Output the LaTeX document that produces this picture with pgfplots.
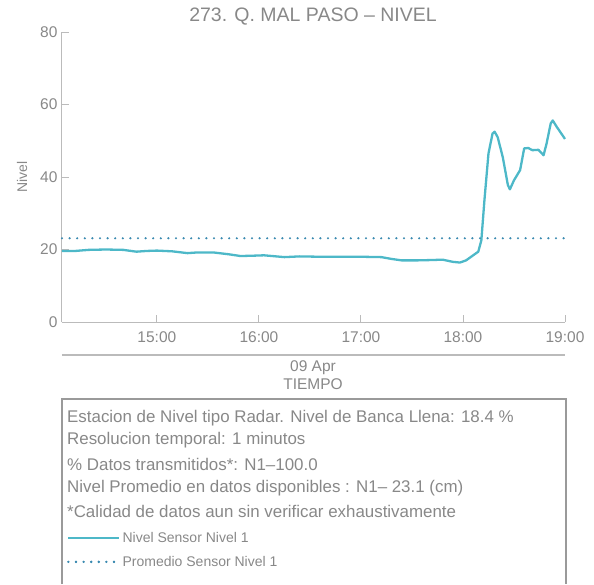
\documentclass[border=0pt]{standalone}
\usepackage{pgfplots}
\pgfplotsset{compat=1.18}
\usepackage{fontspec}
\setmainfont{Liberation Sans}
\definecolor{lineteal}{HTML}{4DB8C8}
\definecolor{dotblue}{HTML}{3A8AB0}
\definecolor{axgray}{HTML}{BBBBBB}
\definecolor{txtgray}{HTML}{888888}
\definecolor{boxgray}{HTML}{9A9A9A}
\begin{document}
\begin{tikzpicture}
\begin{axis}[
  name=ax,
  scale only axis, width=503pt, height=290pt,
  xmin=14.07, xmax=19, ymin=0, ymax=80,
  axis x line*=bottom, axis y line*=left,
  axis line style={axgray, line width=1pt, -},
  xtick={15,16,17,18,19},
  xticklabels={15:00,16:00,17:00,18:00,19:00},
  ytick={0,20,40,60,80},
  tick style={axgray, line width=0.9pt},
  tick align=inside,
  major tick length=7pt,
  /pgf/number format/assume math mode=true,
  tick label style={txtgray, font=\fontsize{15.5}{17}\selectfont},
  xticklabel style={yshift=-6pt},
  yticklabel style={xshift=-1pt},
  ylabel={Nivel}, ylabel style={txtgray, font=\fontsize{14}{16}\selectfont, yshift=6pt},
  legend style={at={(axis description cs:0,-0.718)}, anchor=north west, draw=none, fill=none,
    font=\fontsize{14}{16}\selectfont, text=txtgray, row sep=8pt, inner xsep=5pt, inner ysep=0pt},
  legend cell align=left,
  legend image code/.code={\draw[#1] (0pt,0pt) -- (46pt,0pt); \path (0pt,0pt) -- (51pt,0pt);},
  clip=false,
]
\addplot[lineteal, line width=2.3pt, line join=round] coordinates {
(14.07,19.6) (14.2,19.6) (14.33,19.9) (14.5,20.0) (14.67,19.9) (14.8,19.4)
(14.9,19.6) (15.0,19.7) (15.15,19.5) (15.3,19.0) (15.4,19.2) (15.55,19.2)
(15.7,18.7) (15.82,18.2) (15.95,18.3) (16.05,18.4) (16.25,17.9) (16.4,18.1)
(16.6,18.0) (16.8,18.0) (17.0,18.0) (17.2,17.9) (17.3,17.4) (17.4,17.0)
(17.55,17.0) (17.7,17.1) (17.8,17.2) (17.9,16.6) (17.97,16.4) (18.03,17.0)
(18.1,18.4) (18.15,19.4) (18.18,22.5) (18.21,33.5) (18.25,46.5) (18.29,52.0)
(18.31,52.5) (18.34,51.0) (18.39,45.5) (18.44,37.8) (18.46,36.6) (18.5,39.1)
(18.56,41.9) (18.6,47.9) (18.64,48.0) (18.68,47.4) (18.74,47.5) (18.79,46.0)
(18.82,49.3) (18.86,54.8) (18.88,55.6) (18.92,53.8) (19.0,50.5)
};
\addlegendentry{Nivel Sensor Nivel 1}
\addplot[dotblue, line width=2.4pt, dash pattern=on 0pt off 7.6pt, line cap=round] coordinates {
(14.07,23.1) (19.0,23.1)
};
\addlegendentry{Promedio Sensor Nivel 1}
\end{axis}
\begin{scope}[shift={(ax.south west)}, x=1pt, y=1pt]
\path (-62,-262) rectangle (532,322);
\node[txtgray, font=\fontsize{19.5}{21}\selectfont] at (251,305) {273. Q. MAL PASO -- NIVEL};
\draw[axgray, line width=1.2pt] (0,-33) -- (503,-33);
\node[txtgray, font=\fontsize{15.5}{17}\selectfont] at (251,-46) {09 Apr};
\node[txtgray, font=\fontsize{15.5}{17}\selectfont] at (251,-62) {TIEMPO};
\draw[boxgray, line width=1.3pt] (0,-262) -- (0,-77) -- (504,-77) -- (504,-262);
\begin{scope}[txtgray, font=\fontsize{16.9}{18}\selectfont]
\node[anchor=west, inner xsep=0pt] at (5,-96) {Estacion de Nivel tipo Radar. Nivel de Banca Llena: 18.4 \%};
\node[anchor=west, inner xsep=0pt] at (5,-118) {Resolucion temporal: 1 minutos};
\node[anchor=west, inner xsep=0pt] at (5,-142) {\% Datos transmitidos*: N1--100.0};
\node[anchor=west, inner xsep=0pt] at (5,-166) {Nivel Promedio en datos disponibles : N1-- 23.1 (cm)};
\node[anchor=west, inner xsep=0pt] at (5,-189) {*Calidad de datos aun sin verificar exhaustivamente};
\end{scope}
\end{scope}
\end{tikzpicture}
\end{document}
